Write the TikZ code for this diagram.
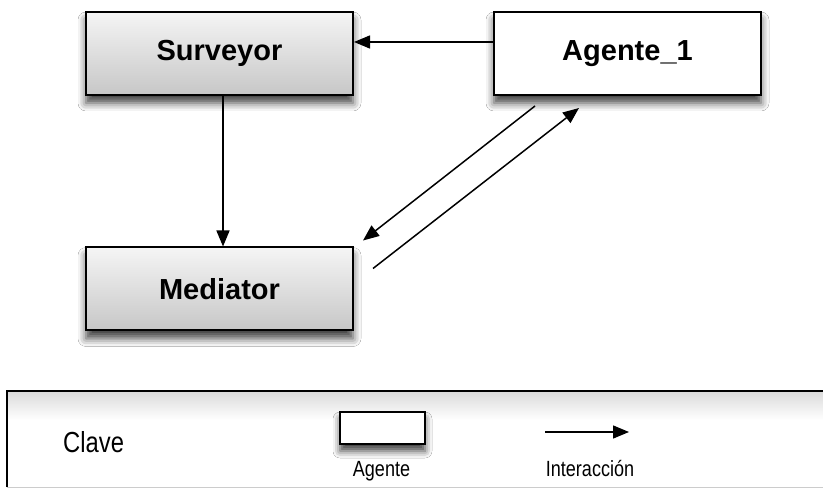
\documentclass[tikz,border=0pt]{standalone}
\usepackage{fontspec}
\setmainfont{Liberation Sans}
\newfontfamily\narrowfont[FakeStretch=0.82]{Liberation Sans}
\usetikzlibrary{arrows.meta,shadows.blur}

\tikzset{
  agentbox/.style={draw=black, line width=2pt, minimum width=267pt, minimum height=83pt,
    inner sep=0pt, font=\fontsize{29}{34}\selectfont\bfseries,
    blur shadow={shadow xshift=0pt, shadow yshift=-8pt, shadow blur radius=8pt, shadow opacity=75}},
  shadedbox/.style={agentbox, top color=white!96!black, bottom color=white!78!black},
  plainbox/.style={agentbox, fill=white},
  link/.style={line width=1.5pt, -{Triangle[length=16pt,width=13pt]}},
  keytext/.style={font=\narrowfont\fontsize{22}{26}\selectfont, inner sep=0pt}
}

\begin{document}
\begin{tikzpicture}[x=1pt,y=-1pt]
  \useasboundingbox (0,0) rectangle (823,489);
  \fill[white] (0,0) rectangle (823,489);

  % key panel along the bottom
  \fill[white] (7,391) rectangle (830,487);
  \shade[top color=white!86!black, bottom color=white] (7,392) rectangle (830,420);
  \draw[white!80!black, line width=1pt] (7,487) -- (830,487);
  \draw[line width=2pt] (7,487) |- (830,391);

  % agents
  \node[shadedbox] (surveyor) at (219.5,53.5) {Surveyor};
  \node[plainbox]  (agente)   at (627.5,53.5) {Agente\_1};
  \node[shadedbox] (mediator) at (219.5,289)  {Mediator};

  % interactions
  \draw[link] ([yshift=11.5pt]agente.west) -- ([yshift=11.5pt]surveyor.east);
  \draw[link] ([xshift=3.5pt]surveyor.south) -- ([xshift=3.5pt]mediator.north);
  \draw[link] ([xshift=42pt,yshift=-10pt]agente.south west)
           -- ([xshift=9pt,yshift=6pt]mediator.north east);
  \draw[link] ([xshift=19pt,yshift=-22pt]mediator.north east)
           -- ([xshift=86pt,yshift=-12pt]agente.south west);

  % key contents
  \node[keytext, anchor=base west] (clave) at (63,453)
    {\fontsize{29}{34}\selectfont Clave};
  \node[draw=black, line width=2pt, fill=white, minimum width=85pt, minimum height=32pt,
    inner sep=0pt,
    blur shadow={shadow xshift=0pt, shadow yshift=-7pt, shadow blur radius=7pt, shadow opacity=75}]
    (keyagent) at (382.5,428) {};
  \node[keytext, anchor=base] (keyagentlabel) at (381.5,476) {Agente};
  \coordinate (keyfrom) at (545,432);
  \coordinate (keyto) at (629,432);
  \draw[link] (keyfrom) -- (keyto);
  \node[keytext, anchor=base] (keylinklabel) at (590,476) {Interacción};
\end{tikzpicture}
\end{document}
